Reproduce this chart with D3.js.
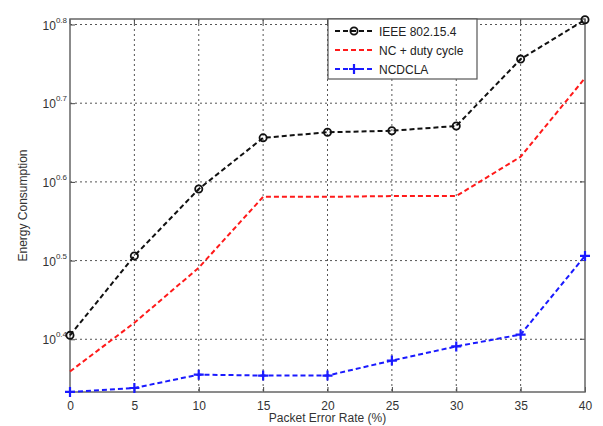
<!DOCTYPE html>
<html>
<head>
<meta charset="utf-8">
<script src="https://cdn.jsdelivr.net/npm/d3@7"></script>
<style>
  body { margin: 0; background: #fff; }
  svg { font-family: Arial, "Liberation Sans", sans-serif; }
</style>
</head>
<body>
<div id="chart"></div>
<script>
// Packet error rate (%)
const perValues = [0, 5, 10, 15, 20, 25, 30, 35, 40];
// Energy consumption
const ieeeValues = [2.541, 3.206, 3.899, 4.529, 4.603, 4.624, 4.688, 5.702, 6.397];
const ncDutyValues = [2.286, 2.636, 3.097, 3.811, 3.811, 3.819, 3.819, 4.285, 5.395];
const ncdclaValues = [2.153, 2.178, 2.265, 2.259, 2.259, 2.360, 2.460, 2.547, 3.206];
const seriesNames = ["IEEE 802.15.4", "NC + duty cycle", "NCDCLA"];
const yTickExponents = [0.4, 0.5, 0.6, 0.7, 0.8];
const xTicks = [0, 5, 10, 15, 20, 25, 30, 35, 40];

const width = 603, height = 426;
const margins = {top: 19, right: 18, bottom: 34, left: 70};

const svg = d3.select("#chart")
  .append("svg")
  .attr("width", width)
  .attr("height", height);

const xScale = d3.scaleLinear()
  .domain([0, 40])
  .range([margins.left, width - margins.right]);

const yScale = d3.scaleLog()
  .domain([Math.pow(10, 0.333), Math.pow(10, 0.807)])
  .range([height - margins.bottom, margins.top]);

const series = [
  {name: seriesNames[0], values: ieeeValues, color: "#111", marker: "circle"},
  {name: seriesNames[1], values: ncDutyValues, color: "#ff1a1a", marker: null},
  {name: seriesNames[2], values: ncdclaValues, color: "#1a1aff", marker: "plus"}
];

// grid lines
const grid = svg.append("g").attr("stroke", "#555").attr("stroke-width", 1)
  .attr("stroke-dasharray", "2,3");
grid.selectAll("line.gx")
  .data(xTicks.slice(1, -1))
  .join("line")
    .attr("x1", d => xScale(d)).attr("x2", d => xScale(d))
    .attr("y1", margins.top).attr("y2", height - margins.bottom);
grid.selectAll("line.gy")
  .data(yTickExponents)
  .join("line")
    .attr("class", "gy")
    .attr("x1", margins.left).attr("x2", width - margins.right)
    .attr("y1", d => yScale(Math.pow(10, d))).attr("y2", d => yScale(Math.pow(10, d)));

// axes with inward ticks
const xAxis = d3.axisBottom(xScale).tickValues(xTicks).tickSizeInner(-5).tickSizeOuter(0).tickPadding(9);
const xGroup = svg.append("g")
  .attr("transform", `translate(0,${height - margins.bottom})`)
  .call(xAxis);
xGroup.select(".domain").remove();
xGroup.selectAll("line").attr("stroke", "#444");
xGroup.selectAll("text").attr("fill", "#333").style("font-size", "12px");

const yAxis = d3.axisLeft(yScale)
  .tickValues(yTickExponents.map(e => Math.pow(10, e)))
  .tickSizeInner(-5).tickSizeOuter(0).tickFormat("");
const yGroup = svg.append("g")
  .attr("transform", `translate(${margins.left},0)`)
  .call(yAxis);
yGroup.select(".domain").remove();
yGroup.selectAll("line").attr("stroke", "#444");

// right-side ticks
svg.append("g")
  .selectAll("line")
  .data(yTickExponents)
  .join("line")
    .attr("x1", width - margins.right).attr("x2", width - margins.right - 5)
    .attr("y1", d => yScale(Math.pow(10, d))).attr("y2", d => yScale(Math.pow(10, d)))
    .attr("stroke", "#444");
svg.append("g")
  .selectAll("line")
  .data(xTicks)
  .join("line")
    .attr("x1", d => xScale(d)).attr("x2", d => xScale(d))
    .attr("y1", margins.top).attr("y2", margins.top + 5)
    .attr("stroke", "#444");

// y tick labels 10^x
const yLabels = svg.append("g")
  .selectAll("text")
  .data(yTickExponents)
  .join("text")
    .attr("x", margins.left - 3)
    .attr("y", d => yScale(Math.pow(10, d)) + 5)
    .attr("text-anchor", "end")
    .attr("fill", "#333")
    .style("font-size", "12px");
yLabels.append("tspan").text("10");
yLabels.append("tspan")
  .attr("dy", -7)
  .style("font-size", "8px")
  .text(d => d.toFixed(1));

// plot frame
svg.append("rect")
  .attr("x", margins.left).attr("y", margins.top)
  .attr("width", width - margins.left - margins.right)
  .attr("height", height - margins.top - margins.bottom)
  .attr("fill", "none").attr("stroke", "#666").attr("stroke-width", 1.5);

// lines
const line = d3.line()
  .x((d, i) => xScale(perValues[i]))
  .y(d => yScale(d));

svg.append("g")
  .selectAll("path")
  .data(series)
  .join("path")
    .attr("d", d => line(d.values))
    .attr("fill", "none")
    .attr("stroke", d => d.color)
    .attr("stroke-width", 2)
    .attr("stroke-dasharray", "5,3");

// markers
const drawMarker = (g, type, color) => {
  if (type === "circle") {
    g.append("circle").attr("r", 3.6).attr("fill", "none")
      .attr("stroke", color).attr("stroke-width", 1.8);
  } else if (type === "plus") {
    g.append("path").attr("d", "M-5,0H5M0,-5V5")
      .attr("stroke", color).attr("stroke-width", 2.2);
  }
};
series.filter(s => s.marker).forEach(s => {
  svg.append("g")
    .selectAll("g")
    .data(s.values)
    .join("g")
      .attr("transform", (d, i) => `translate(${xScale(perValues[i])},${yScale(d)})`)
      .each(function() { drawMarker(d3.select(this), s.marker, s.color); });
});

// legend
const legend = svg.append("g").attr("transform", "translate(328,19)");
legend.append("rect")
  .attr("width", 149).attr("height", 60)
  .attr("fill", "#fff").attr("stroke", "#555").attr("stroke-width", 1.2);
series.forEach((s, i) => {
  const y = 12 + i * 19;
  legend.append("line")
    .attr("x1", 7).attr("x2", 45).attr("y1", y).attr("y2", y)
    .attr("stroke", s.color).attr("stroke-width", 2).attr("stroke-dasharray", "5,3");
  const m = legend.append("g").attr("transform", `translate(26,${y})`);
  drawMarker(m, s.marker, s.color);
  legend.append("text")
    .attr("x", 51).attr("y", y + 4.5)
    .attr("fill", "#222")
    .style("font-size", "12px")
    .text(s.name);
});

// axis labels
svg.append("text")
  .attr("x", xScale(20)).attr("y", 422)
  .attr("text-anchor", "middle")
  .attr("fill", "#333")
  .style("font-size", "12px")
  .text("Packet Error Rate (%)");

svg.append("text")
  .attr("transform", `translate(27,${(margins.top + height - margins.bottom) / 2}) rotate(-90)`)
  .attr("text-anchor", "middle")
  .attr("fill", "#333")
  .style("font-size", "12px")
  .text("Energy Consumption");
</script>
</body>
</html>
